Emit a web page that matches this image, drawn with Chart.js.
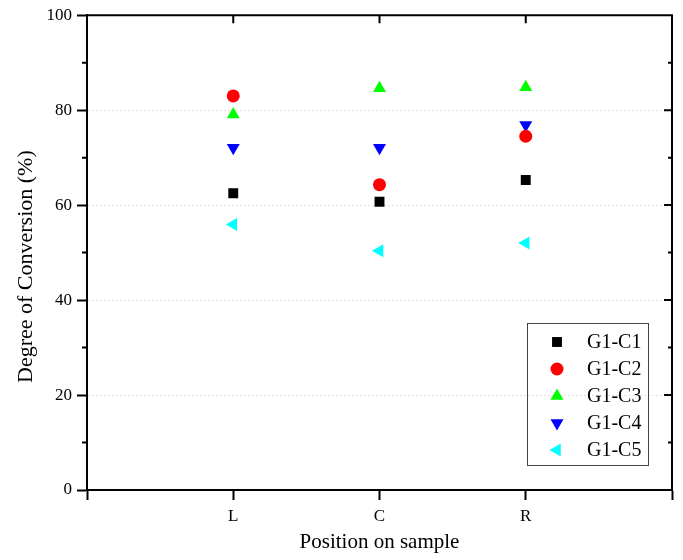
<!DOCTYPE html>
<html>
<head>
<meta charset="utf-8">
<title>Degree of Conversion</title>
<script src="https://cdn.jsdelivr.net/npm/chart.js@4.4.0/dist/chart.umd.min.js"></script>
<style>
    html, body { margin: 0; padding: 0; background: #fff; }
    #wrap { width: 683px; height: 560px; }
</style>
</head>
<body>
<div id="wrap"><canvas id="dcChart" width="683" height="560"></canvas></div>
<script>
// positions on the sample (x = 1, 2, 3)
const positions = ['L', 'C', 'R'];
const positionX = [1, 2, 3];

const seriesNames = ['G1-C1', 'G1-C2', 'G1-C3', 'G1-C4', 'G1-C5'];
const g1c1 = [62.5, 60.7, 65.3];
const g1c2 = [83.0, 64.3, 74.5];
const g1c3 = [79.1, 84.6, 84.8];
const g1c4 = [72.1, 72.1, 76.9];
const g1c5 = [55.9, 50.4, 52.0];

const yTicks = [0, 20, 40, 60, 80, 100];

const FONT = "'Liberation Serif', 'Times New Roman', serif";
const Y_TITLE = 'Degree of Conversion (%)';

const styles = [
    { color: '#000000', pointStyle: 'rect', rotation: 0, radius: 7 },
    { color: '#ff0000', pointStyle: 'circle', rotation: 0, radius: 6.5 },
    { color: '#00ff00', pointStyle: 'triangle', rotation: 0, radius: 7.5 },
    { color: '#0000ff', pointStyle: 'triangle', rotation: 180, radius: 7.5 },
    { color: '#00ffff', pointStyle: 'triangle', rotation: 270, radius: 7.5 }
];

const allSeries = [g1c1, g1c2, g1c3, g1c4, g1c5];

const datasets = allSeries.map((vals, i) => ({
    label: seriesNames[i],
    data: vals.map((v, j) => ({ x: positionX[j], y: v })),
    backgroundColor: styles[i].color,
    borderColor: styles[i].color,
    borderWidth: 0,
    pointStyle: styles[i].pointStyle,
    rotation: styles[i].rotation,
    pointRadius: styles[i].radius,
    pointHoverRadius: styles[i].radius
}));

// top/right frame, inward ticks, minor ticks, y title
const frameTicks = {
    id: 'frameTicks',
    afterDraw(chart) {
        const { ctx, chartArea: a, scales } = chart;
        const xs = scales.x, ys = scales.y;
        ctx.save();
        ctx.strokeStyle = '#000';
        ctx.lineWidth = 2;
        ctx.beginPath();
        ctx.moveTo(a.left - 1, a.top);
        ctx.lineTo(a.right, a.top);
        ctx.lineTo(a.right, a.bottom + 1);
        ctx.stroke();

        ctx.beginPath();
        positionX.forEach(v => {
            const px = xs.getPixelForValue(v);
            ctx.moveTo(px, a.top);
            ctx.lineTo(px, a.top + 8);
        });
        for (let v = 10; v < 100; v += 10) {
            const py = ys.getPixelForValue(v);
            const major = v % 20 === 0;
            ctx.moveTo(a.right, py);
            ctx.lineTo(a.right - (major ? 8 : 4), py);
            if (!major) {
                ctx.moveTo(a.left, py);
                ctx.lineTo(a.left - 5, py);
            }
        }
        ctx.stroke();

        // y title sits a little below the plot centre in the original
        ctx.translate(26, (a.top + a.bottom) / 2 + 14);
        ctx.rotate(-Math.PI / 2);
        ctx.font = '22px ' + FONT;
        ctx.fillStyle = '#000';
        ctx.textAlign = 'center';
        ctx.textBaseline = 'middle';
        ctx.fillText(Y_TITLE, 0, 0);
        ctx.restore();
    }
};

// boxed legend in the lower right of the plot
const boxLegend = {
    id: 'boxLegend',
    afterDraw(chart) {
        const { ctx, chartArea: a } = chart;
        const w = 121, h = 142, rowH = 27;
        const left = a.right - 24 - w;
        const top = a.bottom - 25 - h;
        ctx.save();
        ctx.strokeStyle = '#444';
        ctx.lineWidth = 1;
        ctx.strokeRect(left + 0.5, top + 0.5, w, h);
        ctx.font = '20px ' + FONT;
        ctx.textBaseline = 'middle';
        chart.data.datasets.forEach((ds, i) => {
            const cy = top + 19 + i * rowH;
            const cx = left + 30;
            if (Chart.helpers && Chart.helpers.drawPoint) {
                ctx.fillStyle = ds.backgroundColor;
                ctx.strokeStyle = ds.borderColor;
                ctx.lineWidth = 0.01;
                Chart.helpers.drawPoint(ctx, {
                    pointStyle: ds.pointStyle,
                    rotation: ds.rotation,
                    radius: ds.pointRadius,
                    borderWidth: 0
                }, cx, cy);
            }
            ctx.fillStyle = '#000';
            ctx.fillText(ds.label, left + 60, cy + 1);
        });
        ctx.restore();
    }
};

new Chart(document.getElementById('dcChart'), {
    type: 'scatter',
    data: { datasets },
    options: {
        responsive: false,
        animation: false,
        layout: { padding: { top: 14, right: 11, left: 0, bottom: 0 } },
        plugins: {
            legend: { display: false },
            tooltip: { enabled: false }
        },
        scales: {
            x: {
                type: 'linear',
                min: 0,
                max: 4,
                afterFit: s => { s.height = 70; },
                afterBuildTicks: s => { s.ticks = [0, 1, 2, 3, 4].map(v => ({ value: v })); },
                ticks: {
                    color: '#000',
                    font: { family: FONT, size: 17 },
                    padding: 6,
                    callback: v => positions[positionX.indexOf(v)] || ''
                },
                grid: {
                    drawOnChartArea: false,
                    tickLength: 10,
                    tickColor: '#000',
                    tickWidth: 2
                },
                border: { color: '#000', width: 2 },
                title: {
                    display: true,
                    text: 'Position on sample',
                    color: '#000',
                    font: { family: FONT, size: 21 },
                    padding: { top: 0, bottom: 5 }
                }
            },
            y: {
                min: 0,
                max: 100,
                afterFit: s => { s.width = 87; },
                afterBuildTicks: s => { s.ticks = yTicks.map(v => ({ value: v })); },
                ticks: {
                    color: '#000',
                    font: { family: FONT, size: 17 },
                    padding: 5
                },
                grid: {
                    color: c => (c.tick && c.tick.value > 0 && c.tick.value < 100) ? '#e2e2e2' : 'rgba(0,0,0,0)',
                    lineWidth: 1,
                    tickLength: 10,
                    tickColor: '#000',
                    tickWidth: 2
                },
                border: { color: '#000', width: 2, dash: [2, 2] },
                title: { display: false }
            }
        }
    },
    plugins: [frameTicks, boxLegend]
});
</script>
</body>
</html>
